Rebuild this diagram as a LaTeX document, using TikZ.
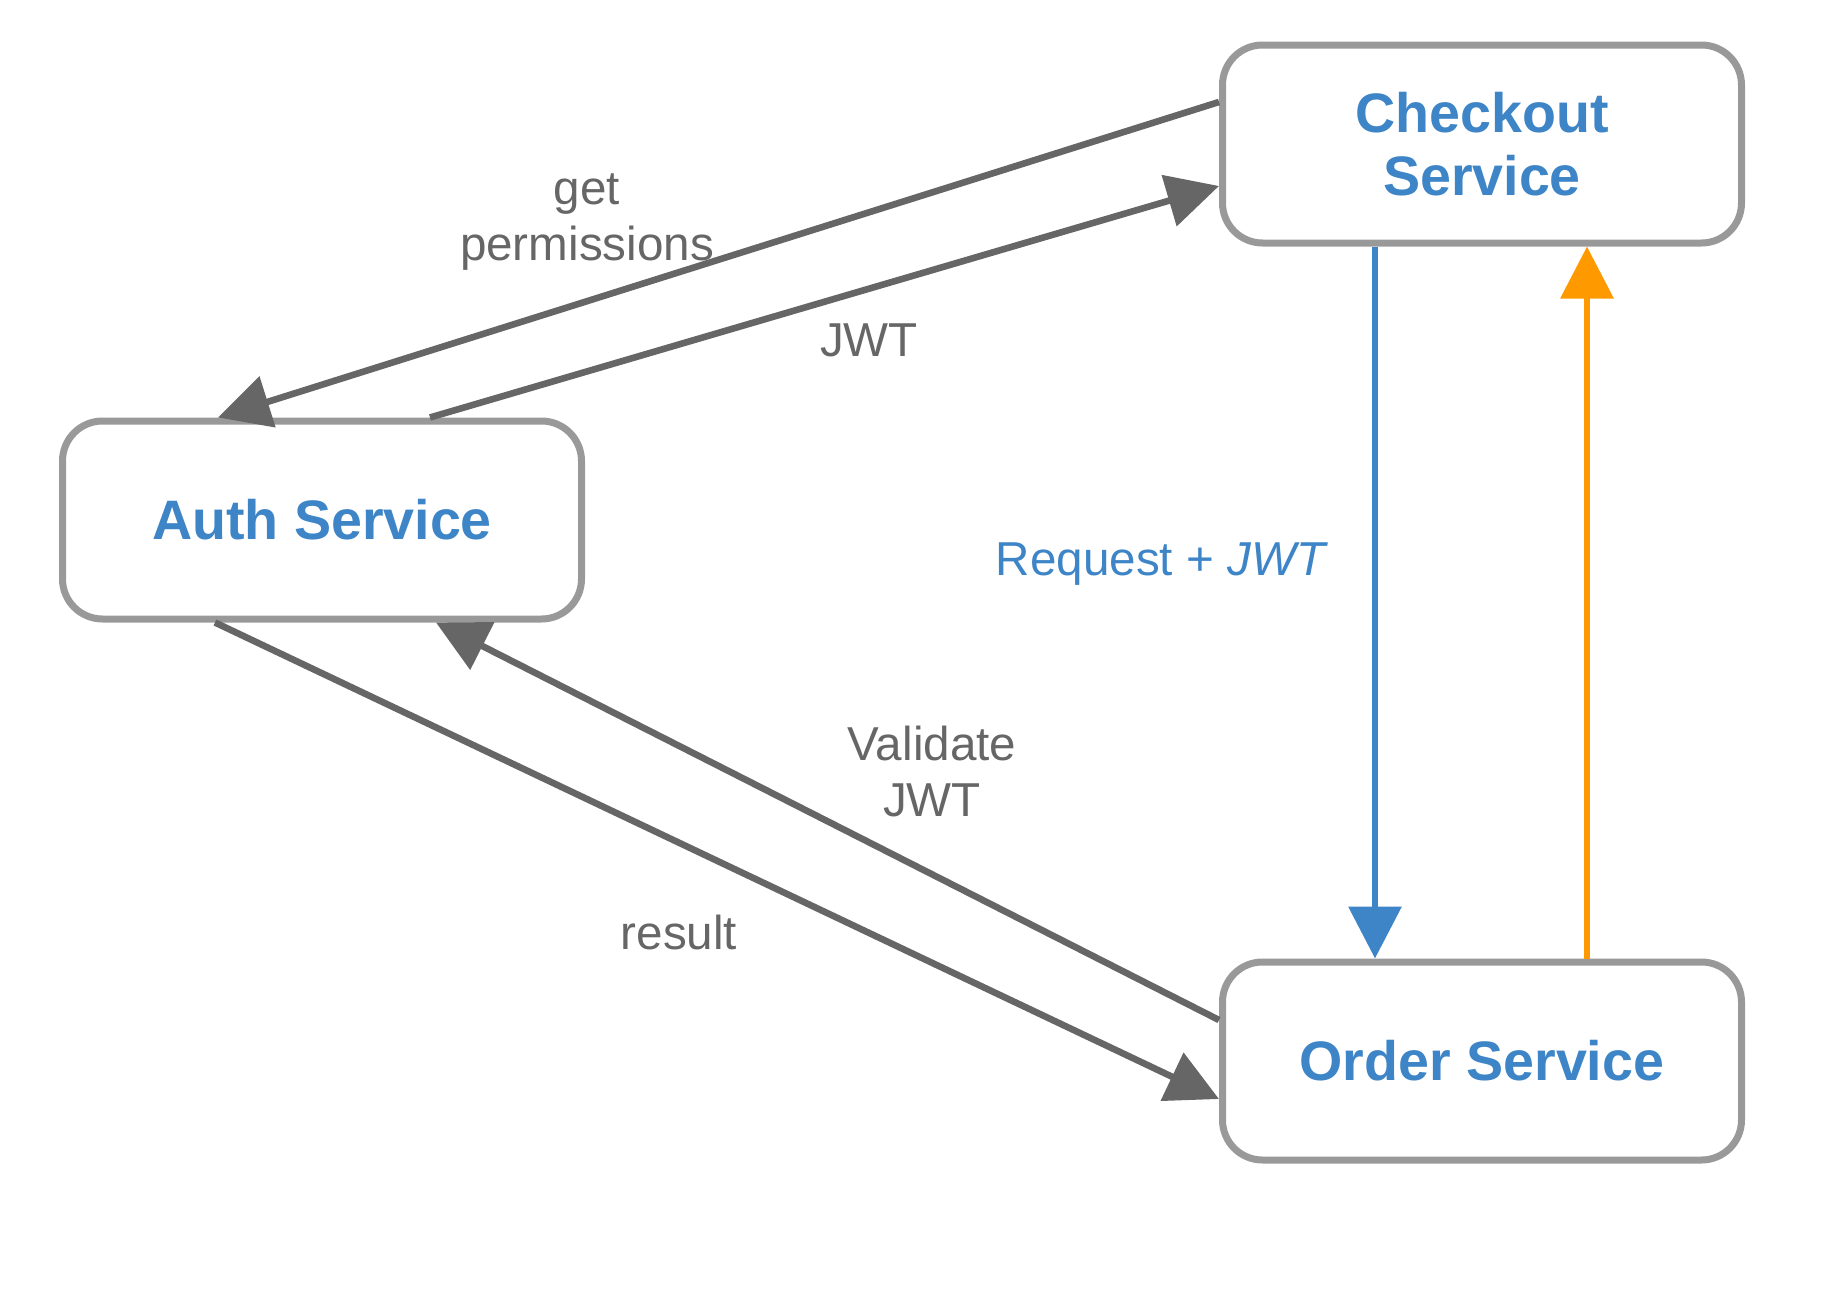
\documentclass[tikz,border=0pt]{standalone}
\usepackage{fontspec}
\setmainfont{Liberation Sans}
\usetikzlibrary{calc, arrows.meta}

\definecolor{svcblue}{HTML}{3D85C6}
\definecolor{boxgray}{HTML}{999999}
\definecolor{linkgray}{HTML}{666666}
\definecolor{respor}{HTML}{FF9900}

\begin{document}
\begin{tikzpicture}[x=0.5pt, y=-0.5pt,
    svc/.style={draw=boxgray, line width=3.5pt, rounded corners=20pt, fill=white,
      minimum width=259.5pt, minimum height=99pt, align=center, text=svcblue,
      font=\fontsize{27.8}{31.5}\selectfont\bfseries},
    lbl/.style={text=linkgray, align=center, font=\fontsize{23.8}{28}\selectfont},
    link/.style={draw=linkgray, line width=3.3pt, -{Triangle[length=26pt, width=26pt]}}]
    \useasboundingbox (0,0) rectangle (1822,1301);
    \node (auth) [svc] at (322,520) {Auth Service};
    \node (chk) [svc] at (1482,144) {Checkout\\Service};
    \node (ord) [svc] at (1482,1061) {Order Service};
    %\node (chk) [svc] at (1482,144) {Checkout Service};
    \draw [link] ($(chk.west)+(0,-42)$) -- ($(auth.north)+(-104,0)$);
    \draw [link] ($(auth.north)+(108,0)$) -- ($(chk.west)+(0,42)$);
    \draw [link] ($(auth.south)+(-107,0)$) -- ($(ord.west)+(0,38)$);
    \draw [link] ($(ord.west)+(0,-41)$) -- ($(auth.south)+(114,0)$);
    \draw [link, draw=svcblue, -{Triangle[length=26pt, width=26pt]}] ($(chk.south)+(-107,0)$) -- ($(ord.north)+(-107,0)$);
    \draw [link, draw=respor, -{Triangle[length=26pt, width=26pt]}] ($(ord.north)+(105,0)$) -- ($(chk.south)+(105,0)$);
    \node (lperm) [lbl] at (587,222) {get\\permissions};
    \node (ljwt) [lbl] at (869,340) {JWT};
    \node (lreq) [lbl, text=svcblue] at (1162,564) {Request + \textit{JWT}};
    \node (lval) [lbl] at (932,771) {Validate\\JWT};
    \node (lres) [lbl] at (679,932) {result};
\end{tikzpicture}
\end{document}
